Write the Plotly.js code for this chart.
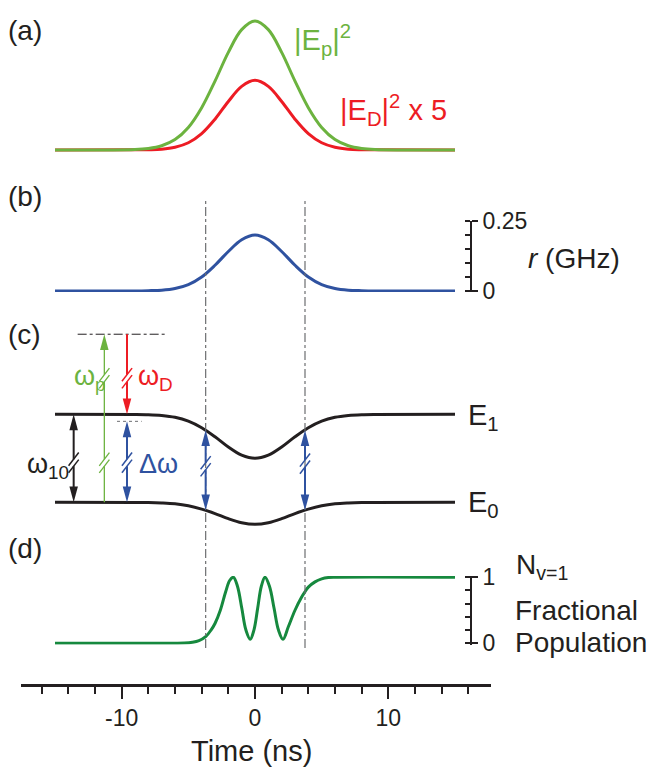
<!DOCTYPE html>
<html><head><meta charset="utf-8">
<script src="https://cdn.plot.ly/plotly-3.0.1.min.js"></script>
<style>html,body{margin:0;padding:0;background:#fff}#chart{width:656px;height:769px}</style>
</head><body><div id="chart"></div>
<script>
// ---------- data ----------
const tGrid = [-15,-9,-8,-7,-6,-5,-4,-3,-2,-1,0,1,2,3,4,5,6,7,8,9,15];
const pumpSq   = [0,0.004,0.012,0.033,0.081,0.175,0.328,0.534,0.757,0.933,1,0.933,0.757,0.534,0.328,0.175,0.081,0.033,0.012,0.004,0];
const dumpSqX5 = [0,0.001,0.002,0.006,0.021,0.056,0.127,0.239,0.376,0.493,0.54,0.493,0.376,0.239,0.127,0.056,0.021,0.006,0.002,0.001,0];
const rabiGHz  = [0,0,0.001,0.003,0.009,0.023,0.05,0.092,0.141,0.183,0.2,0.183,0.141,0.092,0.05,0.023,0.009,0.003,0.001,0,0];
const energyE1 = [1,0.999,0.996,0.987,0.966,0.922,0.847,0.744,0.628,0.536,0.5,0.536,0.628,0.744,0.847,0.922,0.966,0.987,0.996,0.999,1];
const energyE0 = [0,-0.001,-0.002,-0.007,-0.017,-0.039,-0.077,-0.128,-0.186,-0.232,-0.25,-0.232,-0.186,-0.128,-0.077,-0.039,-0.017,-0.007,-0.002,-0.001,0];
const tPop  = [-15,-6,-5.3,-4.7,-4.2,-3.7,-3.3,-3.0,-2.6,-2.2,-1.9,-1.62,-1.31,-0.99,-0.68,-0.36,-0.08,0.2,0.47,0.75,1.09,1.43,1.76,2.1,2.5,3.0,3.5,3.75,4.0,4.5,5.0,5.5,6.0,15];
const popV1 = [0,0,0.003,0.015,0.04,0.1,0.2,0.3,0.5,0.78,0.95,1.0,0.86,0.53,0.2,0.06,0.2,0.53,0.86,1.0,0.86,0.53,0.2,0.06,0.25,0.5,0.7,0.78,0.85,0.93,0.975,0.995,1.0,1.0];

const xTickVals = [-10, 0, 10];
const xTickText = ['-10', '0', '10'];
const xMinorVals = [-16,-14,-12,-8,-6,-4,-2,2,4,6,8,12,14,16];

const markerTimes = [-3.7, 3.75];          // vertical dash-dot guides (ns)
const transitionTimes = [-13.6, -11.3, -9.6]; // omega10, omega_p, omega_D / delta-omega
const virtualLevel = 1.91;                // upper (virtual) level, E units
const dumpLevel = 0.92;                   // end of dump arrow
const virtualSpan = [-13.3, -6.6];
const dumpSpan = [-10.35, -8.5];
const starkE0 = [-0.09, -0.09];
const starkE1 = [0.82, 0.82];
const breakUpper = 1.41, breakLower = 0.45;
const starkBreaks = [0.41, 0.44];

// ---------- styling ----------
const C = {green:'#6cb33f', red:'#ed1c24', blue:'#2f52a0', dgreen:'#16893e', black:'#231f20', grey:'#6d6e71'};
const FONT = 'Liberation Sans, Arial, sans-serif';
const PX = px => (px - 21) / 470;
const PY = py => (685 - py) / 685;

const traces = [
  {x:tGrid, y:dumpSqX5, yaxis:'y', mode:'lines', line:{color:C.red, width:3, shape:'spline'}},
  {x:tGrid, y:pumpSq, yaxis:'y', mode:'lines', line:{color:C.green, width:3, shape:'spline'}},
  {x:tGrid, y:rabiGHz, yaxis:'y2', mode:'lines', line:{color:C.blue, width:3, shape:'spline'}},
  {x:tGrid, y:energyE1, yaxis:'y3', mode:'lines', line:{color:C.black, width:3, shape:'spline'}},
  {x:tGrid, y:energyE0, yaxis:'y3', mode:'lines', line:{color:C.black, width:3, shape:'spline'}},
  {x:tPop, y:popV1, yaxis:'y4', mode:'lines', line:{color:C.dgreen, width:3, shape:'spline'}}
];

const shapes = [];
const HL = 0.18, HW = 0.32, GAP = 0.04;
function head(t, tip, dir, color) {
  const b = tip - dir*HL;
  shapes.push({type:'path', xref:'x', yref:'y3', path:`M${t},${tip} L${t-HW},${b} L${t+HW},${b} Z`, fillcolor:color, line:{width:0}});
}
function slash(t, yb, color, w) {
  [-0.04, 0.04].forEach(off => shapes.push({type:'line', xref:'x', yref:'y3',
    x0:t-0.38, x1:t+0.38, y0:yb+off-0.075, y1:yb+off+0.075, line:{color:color, width:w}}));
}
function arrow(t, yLow, yHigh, breaks, headLow, headHigh, color, w) {
  const start = headLow ? yLow + HL*0.6 : yLow;
  const end = headHigh ? yHigh - HL*0.6 : yHigh;
  const pts = [start];
  breaks.slice().sort((a,b)=>a-b).forEach(b => { pts.push(b-GAP, b+GAP); });
  pts.push(end);
  for (let i = 0; i < pts.length; i += 2)
    shapes.push({type:'line', xref:'x', yref:'y3', x0:t, x1:t, y0:pts[i], y1:pts[i+1], line:{color:color, width:w}});
  breaks.forEach(b => slash(t, b, color, w < 1.8 ? 1.3 : 1.5));
  if (headLow) head(t, yLow, -1, color);
  if (headHigh) head(t, yHigh, 1, color);
}
// guides
markerTimes.forEach(t => shapes.push({type:'line', xref:'x', yref:'paper', x0:t, x1:t, y0:PY(648), y1:PY(201),
  line:{color:C.grey, width:1.2, dash:'dashdot'}}));
shapes.push({type:'line', xref:'x', yref:'y3', x0:virtualSpan[0], x1:virtualSpan[1], y0:virtualLevel, y1:virtualLevel,
  line:{color:C.black, width:1, dash:'dashdot'}});
shapes.push({type:'line', xref:'x', yref:'y3', x0:dumpSpan[0], x1:dumpSpan[1], y0:dumpLevel, y1:dumpLevel,
  line:{color:C.grey, width:1, dash:'dot'}});
// arrows
arrow(transitionTimes[0], 0, 1, [breakLower], true, true, C.black, 2);
arrow(transitionTimes[1], 0, virtualLevel, [breakLower, breakUpper], false, true, C.green, 1.3);
arrow(transitionTimes[2], 1, virtualLevel, [breakUpper], true, false, C.red, 2);
arrow(transitionTimes[2], 0, dumpLevel, [breakLower], true, true, C.blue, 2);
markerTimes.forEach((t,i) => arrow(t, starkE0[i], starkE1[i], [starkBreaks[i]], true, true, C.blue, 2));

// ---------- annotations ----------
function lab(text, px, py, size, color, anchor) {
  return {text:text, xref:'paper', yref:'paper', x:PX(px), y:PY(py), xanchor:anchor||'left', yanchor:'middle',
    showarrow:false, font:{family:FONT, size:size, color:color||C.black}};
}
const annotations = [
  lab('(a)', 6, 31, 28), lab('(b)', 6, 196, 28), lab('(c)', 6, 335, 28), lab('(d)', 6, 548, 28),
  lab('|E<sub>p</sub>|<sup>2</sup>', 292, 40, 29, C.green),
  lab('|E<sub>D</sub>|<sup>2</sup> x 5', 338, 110, 29, C.red),
  lab('<i>r</i> (GHz)', 526, 258, 28),
  lab('ω<sub>p</sub>', 72, 378, 27, C.green),
  lab('ω<sub>D</sub>', 136, 378, 27, C.red),
  lab('ω<sub>10</sub>', 25, 466, 27),
  lab('Δω', 137, 464, 27, C.blue),
  lab('E<sub>1</sub>', 466, 417, 29),
  lab('E<sub>0</sub>', 466, 504, 29),
  lab('N<sub>v=1</sub>', 514, 566, 28),
  lab('Fractional', 513, 610, 28),
  lab('Population', 513, 642, 28),
  lab('Time (ns)', 251, 751, 29, C.black, 'center')
];

const tickFont = {family:FONT, size:23, color:C.black};
const rightAxis = (domain, range, dtick, minorD) => ({
  domain:domain, range:range, anchor:'free', position:PX(471), side:'right',
  showline:true, linecolor:C.black, linewidth:2, ticks:'outside', ticklen:6, tickwidth:2, tickcolor:C.black,
  tickmode:'linear', tick0:0, dtick:dtick, tickfont:tickFont, showgrid:false, zeroline:false,
  minor:{tickmode:'linear', tick0:0, dtick:minorD, ticks:'inside', ticklen:5, tickwidth:2, tickcolor:C.black, showgrid:false}
});
const hidden = (domain, range) => ({domain:domain, range:range, visible:false, showgrid:false, zeroline:false});

const layout = {
  width:656, height:769, margin:{l:21, r:165, t:0, b:84},
  paper_bgcolor:'#fff', plot_bgcolor:'rgba(0,0,0,0)', showlegend:false,
  font:{family:FONT, color:C.black},
  xaxis:{range:[-17.55, 17.7], anchor:'free', position:0, showline:true, linecolor:C.black, linewidth:2.5,
    ticks:'outside', ticklen:12, tickwidth:2, tickcolor:C.black, tickmode:'array', tickvals:xTickVals, ticktext:xTickText,
    tickfont:tickFont, showgrid:false, zeroline:false,
    minor:{tickmode:'array', tickvals:xMinorVals, ticks:'outside', ticklen:7, tickwidth:2, tickcolor:C.black, showgrid:false}},
  yaxis: hidden([PY(156.45), PY(14.55)], [-0.05, 1.05]),
  yaxis2: rightAxis([PY(292.1), PY(221)], [-0.004, 0.25], 0.25, 0.05),
  yaxis3: hidden([PY(555.1), PY(326.3)], [-0.6, 2.0]),
  yaxis4: rightAxis([PY(644.6), PY(575.9)], [-0.02, 1.02], 1, 0.2),
  shapes:shapes, annotations:annotations
};
Plotly.newPlot('chart', traces, layout, {staticPlot:true, displayModeBar:false});
</script></body></html>
